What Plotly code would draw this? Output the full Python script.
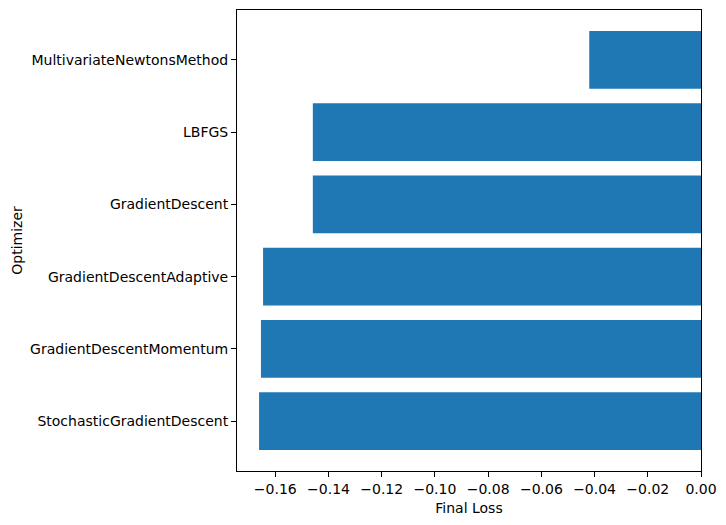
import plotly.graph_objects as go

optimizers = [
    "StochasticGradientDescent",
    "GradientDescentMomentum",
    "GradientDescentAdaptive",
    "GradientDescent",
    "LBFGS",
    "MultivariateNewtonsMethod",
]
final_loss = [-0.1661, -0.1654, -0.1646, -0.1459, -0.1459, -0.0420]

fig = go.Figure(
    go.Bar(
        x=final_loss,
        y=optimizers,
        orientation="h",
        marker=dict(color="#1f77b4", line=dict(width=0)),
        width=0.8,
    )
)

font = dict(family="DejaVu Sans", size=14, color="black")

axis_style = dict(
    showline=True,
    linecolor="black",
    linewidth=1,
    mirror=True,
    ticks="outside",
    ticklen=5,
    tickcolor="black",
    showgrid=False,
    zeroline=False,
    tickfont=font,
)

fig.update_xaxes(
    **axis_style,
    range=[-0.1744, 0],
    dtick=0.02,
    tickformat=".2f",
    ticklabelstandoff=0,
    title=dict(text="Final Loss", font=font, standoff=7),
)
fig.update_yaxes(
    **axis_style,
    range=[-0.69, 5.69],
    title=dict(text="Optimizer", font=font, standoff=4),
)

# page body adds ~8px offset, so margins are shifted to compensate
fig.update_layout(
    width=726,
    height=525,
    margin=dict(l=229, r=33, t=2, b=62),
    plot_bgcolor="white",
    paper_bgcolor="white",
    showlegend=False,
)

fig.write_html("out.html")
